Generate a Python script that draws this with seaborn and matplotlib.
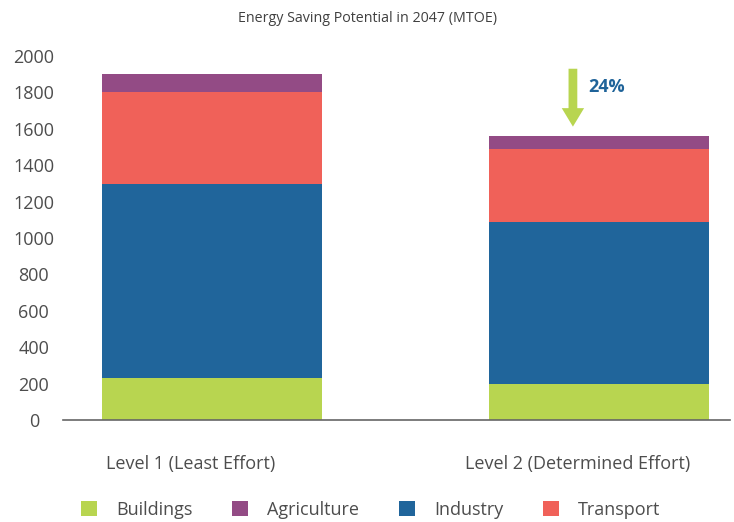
import matplotlib
matplotlib.use("Agg")
import matplotlib.pyplot as plt
import matplotlib.transforms as mtransforms
from matplotlib.patches import Patch
import seaborn as sns
import pandas as pd
import numpy as np

# Energy saving potential by sector (MTOE), two effort levels
levels = ["Level 1 (Least Effort)", "Level 2 (Determined Effort)"]
buildings = [230, 200]
industry = [1067, 890]
transport = [505, 400]
agriculture = [100, 70]
yticks = [0, 200, 400, 600, 800, 1000, 1200, 1400, 1600, 1800, 2000]
reduction_label = "24%"

colors = {
    "Buildings": "#b8d550",
    "Agriculture": "#934b85",
    "Industry": "#20659b",
    "Transport": "#f06159",
}

sns.set_theme(style="white")
plt.rcParams["font.family"] = ["Open Sans", "DejaVu Sans"]

fig = plt.figure(figsize=(7.34, 5.22), dpi=100)
ax = fig.add_axes([63 / 734, 1 - 420 / 522, (730 - 63) / 734, (420 - 56) / 522])

# cumulative tops, stacked bottom-up: buildings, industry, transport, agriculture
b = np.array(buildings)
i = b + np.array(industry)
t = i + np.array(transport)
a = t + np.array(agriculture)

layers = [("Agriculture", a), ("Transport", t), ("Industry", i), ("Buildings", b)]
for name, tops in layers:
    df = pd.DataFrame({"level": levels, "value": tops})
    sns.barplot(data=df, x="level", y="value", color=colors[name],
                width=0.568, saturation=1, ax=ax, edgecolor="none", linewidth=0)

ax.set_xlim(-0.385, 1.339)
ax.set_ylim(0, 2000)
ax.set_yticks(yticks)
ax.set_yticklabels([str(v) for v in yticks])
ax.set_xlabel("")
ax.set_ylabel("")

for side in ["left", "right", "top"]:
    ax.spines[side].set_visible(False)
ax.spines["bottom"].set_color("#666666")
ax.spines["bottom"].set_linewidth(1.2)

ax.tick_params(axis="y", length=0, pad=21, labelsize=13, labelcolor="#4d4d4d")
ax.tick_params(axis="x", length=0, pad=25, labelsize=13, labelcolor="#4d4d4d")
for lbl in ax.get_yticklabels():
    lbl.set_ha("center")
shift = mtransforms.ScaledTranslation(-21 / 100, 0, fig.dpi_scale_trans)
for lbl in ax.get_xticklabels():
    lbl.set_transform(lbl.get_transform() + shift)

fig.text(368 / 734, 1 - 19 / 522, "Energy Saving Potential in 2047 (MTOE)",
         fontsize=10.3, color="#404040", ha="center", va="center")

# reduction arrow and label over the second bar
ax.annotate("", xy=(0.933, 1612), xytext=(0.933, 1930),
            arrowprops=dict(arrowstyle="simple,head_length=0.95,head_width=1.15,tail_width=0.45",
                            mutation_scale=14, color=colors["Buildings"],
                            shrinkA=0, shrinkB=0, linewidth=0))
ax.text(0.972, 1830, reduction_label, fontsize=13, fontweight="bold",
        color="#1f6399", ha="left", va="center")

handles = [Patch(facecolor=colors[k], edgecolor="none", label=k)
           for k in ["Buildings", "Agriculture", "Industry", "Transport"]]
fig.legend(handles=handles, loc="center", bbox_to_anchor=(0.505, 1 - 510 / 522),
           ncol=4, frameon=False, fontsize=13, handlelength=0.9, handleheight=0.9,
           handletextpad=1.05, columnspacing=2.2, labelcolor="#4d4d4d")

fig.savefig("out.png", dpi=100)
